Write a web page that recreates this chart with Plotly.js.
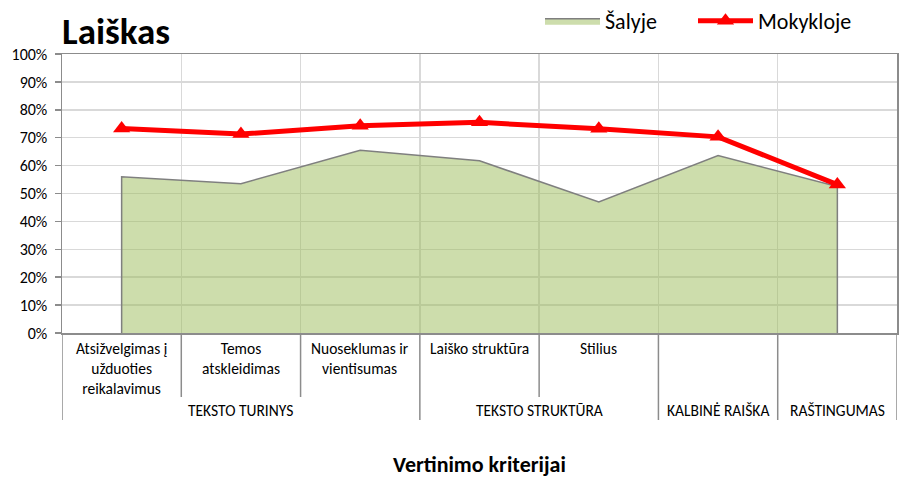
<!DOCTYPE html>
<html>
<head>
<meta charset="utf-8">
<script src="https://cdn.plot.ly/plotly-3.0.1.min.js"></script>
<style>html,body{margin:0;padding:0;background:#fff;}#chart{width:907px;height:477px;}</style>
</head>
<body>
<div id="chart"></div>
<script>
const categories = ["Atsižvelgimas į užduoties reikalavimus", "Temos atskleidimas", "Nuoseklumas ir vientisumas", "Laiško struktūra", "Stilius", "Kalbinė raiška", "Raštingumas"];
const tickLabels = ["Atsižvelgimas į<br>užduoties<br>reikalavimus", "Temos<br>atskleidimas", "Nuoseklumas ir<br>vientisumas", "Laiško struktūra", "Stilius", "", ""];
const groupLabels = ["TEKSTO TURINYS", "TEKSTO STRUKTŪRA", "KALBINĖ RAIŠKA", "RAŠTINGUMAS"];
const groupSpans = [3, 2, 1, 1];
const salyje = [0.56, 0.535, 0.655, 0.617, 0.47, 0.636, 0.525];
const mokykloje = [0.733, 0.713, 0.743, 0.755, 0.732, 0.703, 0.532];

const FONT = "Carlito, Calibri, Lato, 'Open Sans', sans-serif";

const areaX = [categories[0]].concat(categories, [categories[categories.length - 1]]);
const areaY = [0].concat(salyje, [0]);

const traces = [
  {
    type: "scatter", mode: "lines", name: "Šalyje", legend: "legend",
    x: areaX, y: areaY, fill: "tozeroy",
    fillcolor: "rgba(155,187,89,0.5)",
    line: {color: "#7f7f7f", width: 1.5}
  },
  {
    type: "scatter", mode: "lines+markers", name: "Mokykloje", legend: "legend2",
    x: categories, y: mokykloje,
    line: {color: "#ff0000", width: 5},
    marker: {symbol: "triangle-up", size: 15, color: "#ff0000"}
  }
];

const shapes = [];
const annotations = [];
const shortY = -64 / 279, longY = -87 / 279;
categories.forEach((c, i) => {
  annotations.push({x: c, y: 0, xref: "x", yref: "paper", yanchor: "top", yshift: -4,
    text: tickLabels[i], showarrow: false, font: {family: FONT, size: 15.5, color: "#000"}, align: "center"});
});
let start = 0;
const groupBounds = new Set([-0.5]);
groupSpans.forEach((s, gi) => {
  const end = start + s;
  groupBounds.add(end - 0.5);
  annotations.push({x: (start + end - 1) / 2, y: 0, xref: "x", yref: "paper", yanchor: "middle", yshift: -77,
    text: groupLabels[gi], showarrow: false, font: {family: FONT, size: 15.5, color: "#000"}});
  start = end;
});
for (let b = -0.5; b <= categories.length - 0.5; b += 1) {
  shapes.push({type: "line", xref: "x", yref: "paper", x0: b, x1: b, y0: 0,
    y1: groupBounds.has(b) ? longY : shortY, line: {color: "#8c8c8c", width: 1.5}});
}
annotations.push({x: 0.5, y: 0, xref: "paper", yref: "paper", yanchor: "middle", yshift: -131,
  text: "<b>Vertinimo kriterijai</b>", showarrow: false, font: {family: FONT, size: 22, color: "#000"}});

const legendBase = {orientation: "h", xanchor: "left", yanchor: "top", xref: "container", yref: "container",
  y: 1.0, font: {family: FONT, size: 22, color: "#000"}, bgcolor: "rgba(0,0,0,0)", itemwidth: 55};

const layout = {
  width: 907, height: 477,
  margin: {l: 62, r: 10, t: 54, b: 144},
  paper_bgcolor: "#fff", plot_bgcolor: "#fff",
  font: {family: FONT, size: 15, color: "#000"},
  title: {text: "<b>Laiškas</b>", x: 0, xref: "paper", xanchor: "left", y: 0.935, yanchor: "middle",
    font: {family: FONT, size: 37, color: "#000"}},
  showlegend: true,
  legend: Object.assign({}, legendBase, {x: 540 / 907}),
  legend2: Object.assign({}, legendBase, {x: 693 / 907}),
  xaxis: {type: "category", range: [-0.5, 6.5], tickson: "boundaries", showgrid: true,
    gridcolor: "#d9d9d9", gridwidth: 1.5, showticklabels: false, ticks: "",
    showline: true, linecolor: "#8c8c8c", linewidth: 1.5, mirror: true, zeroline: false, fixedrange: true},
  yaxis: {range: [0, 1], dtick: 0.1, tickformat: ".0%", showgrid: true, gridcolor: "#d9d9d9", gridwidth: 1.5,
    ticks: "outside", ticklen: 6, tickcolor: "#8c8c8c", tickwidth: 1.5, ticklabelstandoff: 4,
    showline: true, linecolor: "#8c8c8c", linewidth: 1.5, mirror: true, zeroline: false,
    tickfont: {family: FONT, size: 16, color: "#000"}, fixedrange: true},
  shapes: shapes,
  annotations: annotations
};

Plotly.newPlot("chart", traces, layout, {displayModeBar: false, staticPlot: true});
</script>
</body>
</html>
